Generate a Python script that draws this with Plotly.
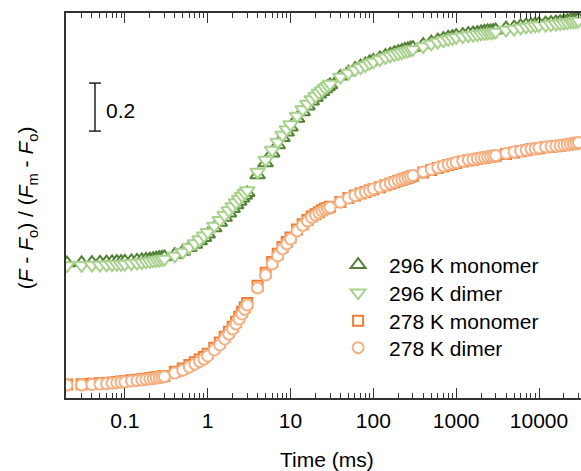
import plotly.graph_objects as go

# Sampling times of the fluorescence transients (ms)
time_ms = [
    0.02, 0.03, 0.04, 0.05, 0.06, 0.07, 0.08, 0.09, 0.1, 0.12, 0.14, 0.16, 0.18, 0.2, 0.22, 0.24, 0.26, 0.28, 0.3,
    0.4, 0.5, 0.6, 0.7, 0.8, 0.9, 1, 1.2, 1.4, 1.6, 1.8, 2, 2.2, 2.4, 2.6, 2.8, 3,
    4, 5, 6, 7, 8, 9, 10, 12, 14, 16, 18, 20, 22, 24, 26, 28, 30,
    40, 50, 60, 70, 80, 90, 100, 120, 140, 160, 180, 200, 220, 240, 260, 280, 300,
    400, 500, 600, 700, 800, 900, 1000, 1200, 1400, 1600, 1800, 2000, 2200, 2400, 2600, 2800, 3000,
    4000, 5000, 6000, 7000, 8000, 9000, 10000, 12000, 14000, 16000, 18000, 20000, 22000, 24000, 26000, 28000, 30000,
]

# Normalised fluorescence (F - Fo) / (Fm - Fo)
k296_monomer = [
    0.008, 0.009, 0.010, 0.011, 0.012, 0.013, 0.014, 0.014, 0.015, 0.017, 0.019, 0.021, 0.023, 0.025, 0.027, 0.029, 0.031, 0.032, 0.034,
    0.043, 0.056, 0.072, 0.086, 0.100, 0.114, 0.128, 0.154, 0.177, 0.198, 0.216, 0.234, 0.250, 0.265, 0.278, 0.290, 0.301,
    0.375, 0.425, 0.466, 0.500, 0.530, 0.553, 0.574, 0.610, 0.638, 0.662, 0.682, 0.697, 0.711, 0.722, 0.733, 0.742, 0.750,
    0.786, 0.804, 0.818, 0.829, 0.837, 0.846, 0.853, 0.863, 0.872, 0.879, 0.885, 0.889, 0.893, 0.898, 0.900, 0.904, 0.906,
    0.918, 0.929, 0.937, 0.943, 0.948, 0.952, 0.956, 0.960, 0.964, 0.966, 0.968, 0.971, 0.973, 0.975, 0.975, 0.977, 0.979,
    0.987, 0.991, 0.996, 1.000, 1.002, 1.004, 1.006, 1.008, 1.010, 1.012, 1.014, 1.016, 1.018, 1.021, 1.021, 1.023, 1.025,
]
k296_dimer = [
    -0.002, -0.001, 0.000, 0.000, 0.001, 0.002, 0.003, 0.003, 0.004, 0.006, 0.008, 0.010, 0.013, 0.015, 0.017, 0.019, 0.021, 0.023, 0.025,
    0.038, 0.054, 0.074, 0.090, 0.106, 0.122, 0.137, 0.163, 0.187, 0.208, 0.227, 0.244, 0.260, 0.275, 0.288, 0.300, 0.311,
    0.388, 0.438, 0.479, 0.513, 0.542, 0.565, 0.585, 0.621, 0.648, 0.671, 0.690, 0.704, 0.717, 0.727, 0.738, 0.746, 0.754,
    0.783, 0.800, 0.813, 0.823, 0.831, 0.840, 0.846, 0.856, 0.865, 0.871, 0.877, 0.881, 0.885, 0.890, 0.892, 0.896, 0.898,
    0.910, 0.921, 0.929, 0.935, 0.940, 0.944, 0.948, 0.952, 0.956, 0.958, 0.960, 0.963, 0.965, 0.967, 0.967, 0.969, 0.971,
    0.979, 0.983, 0.988, 0.992, 0.994, 0.996, 0.998, 1.000, 1.002, 1.004, 1.006, 1.008, 1.010, 1.013, 1.013, 1.015, 1.017,
]
k278_monomer = [
    0.002, 0.003, 0.005, 0.007, 0.009, 0.011, 0.013, 0.015, 0.016, 0.020, 0.022, 0.024, 0.026, 0.028, 0.030, 0.032, 0.034, 0.036, 0.038,
    0.055, 0.069, 0.083, 0.095, 0.106, 0.117, 0.130, 0.155, 0.177, 0.201, 0.222, 0.243, 0.264, 0.285, 0.305, 0.324, 0.342,
    0.414, 0.468, 0.513, 0.547, 0.575, 0.596, 0.615, 0.648, 0.670, 0.688, 0.702, 0.712, 0.720, 0.728, 0.734, 0.738, 0.743,
    0.763, 0.779, 0.790, 0.798, 0.804, 0.810, 0.816, 0.824, 0.832, 0.839, 0.845, 0.851, 0.855, 0.859, 0.864, 0.868, 0.872,
    0.886, 0.896, 0.904, 0.911, 0.917, 0.921, 0.925, 0.931, 0.936, 0.939, 0.943, 0.945, 0.947, 0.949, 0.951, 0.953, 0.955,
    0.963, 0.969, 0.974, 0.978, 0.982, 0.984, 0.987, 0.991, 0.993, 0.995, 0.997, 0.999, 1.001, 1.003, 1.005, 1.007, 1.009,
]
k278_dimer = [
    0.000, 0.000, 0.002, 0.004, 0.006, 0.008, 0.010, 0.012, 0.013, 0.017, 0.019, 0.021, 0.023, 0.025, 0.027, 0.029, 0.031, 0.033, 0.035,
    0.050, 0.062, 0.075, 0.087, 0.098, 0.108, 0.121, 0.146, 0.167, 0.192, 0.212, 0.233, 0.254, 0.275, 0.296, 0.315, 0.333,
    0.404, 0.458, 0.504, 0.538, 0.567, 0.588, 0.608, 0.642, 0.665, 0.683, 0.698, 0.708, 0.717, 0.725, 0.731, 0.735, 0.740,
    0.762, 0.779, 0.790, 0.798, 0.804, 0.810, 0.817, 0.825, 0.833, 0.840, 0.846, 0.852, 0.856, 0.860, 0.865, 0.869, 0.873,
    0.888, 0.898, 0.906, 0.913, 0.919, 0.923, 0.927, 0.933, 0.938, 0.940, 0.944, 0.946, 0.948, 0.950, 0.952, 0.954, 0.956,
    0.965, 0.971, 0.975, 0.979, 0.983, 0.985, 0.988, 0.992, 0.994, 0.996, 0.998, 1.000, 1.002, 1.004, 1.006, 1.008, 1.010,
]

# The 296 K curves are stacked above the 278 K curves
offset_296 = 0.5

tick_values = [0.1, 1, 10, 100, 1000, 10000]
tick_labels = ["0.1", "1", "10", "100", "1000", "10000"]

# name, values, vertical shift, symbol, size, colour, legend id, legend row position
series = [
    ("296 K monomer", k296_monomer, offset_296, "triangle-up", 13, "#548235", "legend", 0.3455),
    ("296 K dimer", k296_dimer, offset_296, "triangle-down", 13, "#A9D18E", "legend2", 0.2727),
    ("278 K monomer", k278_monomer, 0.0, "square", 10, "#ED7D31", "legend3", 0.2000),
    ("278 K dimer", k278_dimer, 0.0, "circle", 11, "#F4B183", "legend4", 0.1299),
]

FONT = "Arial, Liberation Sans, Helvetica, sans-serif"
AXIS_COLOR = "#333333"

fig = go.Figure()
legend_layout = {}
for name, values, shift, symbol, size, color, legend_id, row_y in series:
    fig.add_trace(go.Scatter(
        x=time_ms,
        y=[v + shift for v in values],
        mode="markers",
        name=name,
        legend=legend_id,
        marker=dict(symbol=symbol, size=size, color="white",
                    line=dict(color=color, width=2)),
    ))
    # one single-entry legend per series, stacked as rows
    legend_layout[legend_id] = dict(
        x=0.507, y=row_y, xanchor="left", yanchor="middle",
        bgcolor="rgba(0,0,0,0)", borderwidth=0,
        font=dict(family=FONT, size=21, color="black"),
        itemwidth=52,
    )

fig.update_layout(
    width=581,
    height=471,
    margin=dict(l=66, r=0, t=13, b=73),
    plot_bgcolor="white",
    paper_bgcolor="white",
    font=dict(family=FONT, size=21, color="black"),
    showlegend=True,
    xaxis=dict(
        type="log",
        range=[-1.711, 4.507],
        tickmode="array",
        tickvals=tick_values,
        ticktext=tick_labels,
        ticks="inside",
        ticklen=10,
        tickwidth=1,
        tickcolor=AXIS_COLOR,
        ticklabelstandoff=3,
        minor=dict(dtick="D1", ticks="inside", ticklen=5, tickwidth=1,
                   tickcolor=AXIS_COLOR, showgrid=False),
        showline=True,
        linecolor=AXIS_COLOR,
        linewidth=1.5,
        mirror="ticks",
        showgrid=False,
        zeroline=False,
        tickfont=dict(family=FONT, size=21, color="black"),
    ),
    yaxis=dict(
        range=[-0.054, 1.55],
        showline=True,
        linecolor=AXIS_COLOR,
        linewidth=1.5,
        showticklabels=False,
        ticks="",
        showgrid=False,
        zeroline=False,
    ),
    **legend_layout,
)

# Axis titles
fig.add_annotation(
    text="Time (ms)", xref="paper", yref="paper", x=0.507, y=-0.161,
    xanchor="center", yanchor="middle", showarrow=False,
    font=dict(family=FONT, size=21, color="black"),
)
fig.add_annotation(
    text="(<i>F</i> - <i>F</i><sub>o</sub>) / (<i>F</i><sub>m</sub> - <i>F</i><sub>o</sub>)",
    xref="paper", yref="paper", x=-0.074, y=0.495, textangle=-90,
    xanchor="center", yanchor="middle", showarrow=False,
    font=dict(family=FONT, size=21, color="black"),
)

# 0.2 scale bar in place of y tick labels
bar_x, cap = 0.0563, 0.0117
bar_lo, bar_hi = 1.058, 1.258
bar_style = dict(color="#222222", width=1.5)
fig.add_shape(type="line", xref="paper", yref="y", x0=bar_x, x1=bar_x,
              y0=bar_lo, y1=bar_hi, line=bar_style)
for yy in (bar_lo, bar_hi):
    fig.add_shape(type="line", xref="paper", yref="y", x0=bar_x - cap,
                  x1=bar_x + cap, y0=yy, y1=yy, line=bar_style)
fig.add_annotation(
    text="0.2", xref="paper", yref="y", x=0.074, y=1.142,
    xanchor="left", yanchor="middle", showarrow=False,
    font=dict(family=FONT, size=21, color="black"),
)

fig.write_html("out.html")
